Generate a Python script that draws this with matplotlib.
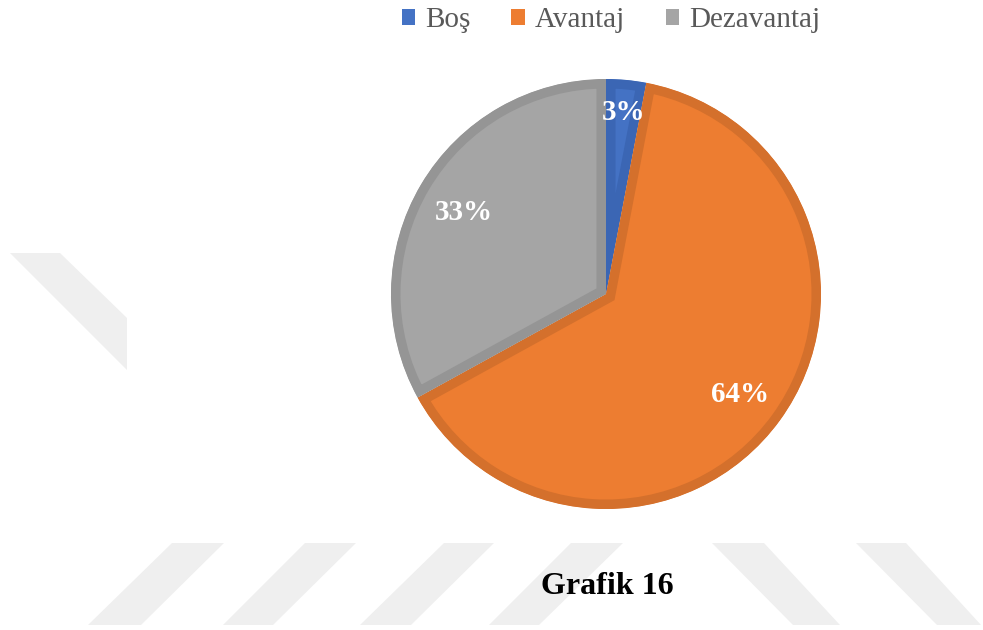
import matplotlib
matplotlib.use("Agg")
import matplotlib.pyplot as plt
import matplotlib.patches as mpatches
from matplotlib.patches import Polygon, Wedge

# ---- data ----
categories = ["Boş", "Avantaj", "Dezavantaj"]
values = [3, 64, 33]
caption = "Grafik 16"

# ---- style ----
fill_colors = ["#4472C4", "#ED7D31", "#A5A5A5"]
edge_colors = ["#3B66B4", "#D4702C", "#959595"]
serif = ["Liberation Serif", "DejaVu Serif"]

W, H = 983, 630
fig = plt.figure(figsize=(W / 100, H / 100), dpi=100)
fig.patch.set_facecolor("white")

# faint background watermark stripes (page decoration), pixel coords
stripes_px = [
    [(10, 253), (60, 253), (127, 318), (127, 370)],
    [(172, 543), (224, 543), (141, 625), (88, 625)],
    [(305, 543), (356, 543), (273, 625), (223, 625)],
    [(444, 543), (494, 543), (411, 625), (360, 625)],
    [(571, 543), (623, 543), (539, 625), (489, 625)],
    [(712, 543), (764, 543), (840, 625), (793, 625)],
    [(856, 543), (906, 543), (981, 625), (937, 625)],
]
for poly in stripes_px:
    pts = [(x / W, (H - y) / H) for x, y in poly]
    fig.patches.append(Polygon(pts, closed=True, transform=fig.transFigure,
                               facecolor="#EFEFEF", edgecolor="none", zorder=0))

# pie axes: center ~ (606, 294) px, radius ~ 215 px
R = 215
span = 1.1
size = 2 * R * span
cx, cy = 606, 294
ax = fig.add_axes([(cx - size / 2) / W, (H - cy - size / 2) / H, size / W, size / H])
ax.set_facecolor("none")

wedges, texts, autotexts = ax.pie(
    values, colors=fill_colors, startangle=90, counterclock=False,
    autopct=lambda p: f"{p:.0f}%", pctdistance=0.77,
    wedgeprops=dict(linewidth=0), textprops=dict(color="white"))

ax.set_xlim(-span, span)
ax.set_ylim(-span, span)
ax.set_aspect("equal")
ax.axis("off")

bw_pt = 9.5 * 0.72  # border width ~9.5 px, drawn inside the wedge
for w, ec in zip(wedges, edge_colors):
    w.set_edgecolor(ec)
    w.set_linewidth(2 * bw_pt)
    w.set_joinstyle("miter")
    clip = Wedge(w.center, w.r, w.theta1, w.theta2, transform=ax.transData)
    w.set_clip_on(True)
    w.set_clip_path(clip)

for t, v in zip(autotexts, values):
    t.set_fontfamily(serif)
    t.set_fontweight("bold")
    t.set_fontsize(21)
    t.set_color("white")
    t.set_va("center_baseline")
    if v < 5:
        x, y = t.get_position()
        t.set_position((x * 0.86 / 0.77, y * 0.86 / 0.77))

# legend
handles = [mpatches.Patch(facecolor=c, edgecolor="none") for c in fill_colors]
leg = fig.legend(handles, categories, loc="center", bbox_to_anchor=(611 / W, 1 - 20 / H),
                 ncol=3, frameon=False,
                 prop=dict(family=serif, size=21),
                 handlelength=0.47, handleheight=0.47, handletextpad=0.34,
                 columnspacing=1.39, borderpad=0, borderaxespad=0)
for t in leg.get_texts():
    t.set_color("#595959")

# caption
fig.text(607 / W, 1 - 587 / H, caption, ha="center", va="center",
         fontfamily=serif, fontweight="bold", fontsize=23, color="black")

fig.savefig("out.png", dpi=100)
